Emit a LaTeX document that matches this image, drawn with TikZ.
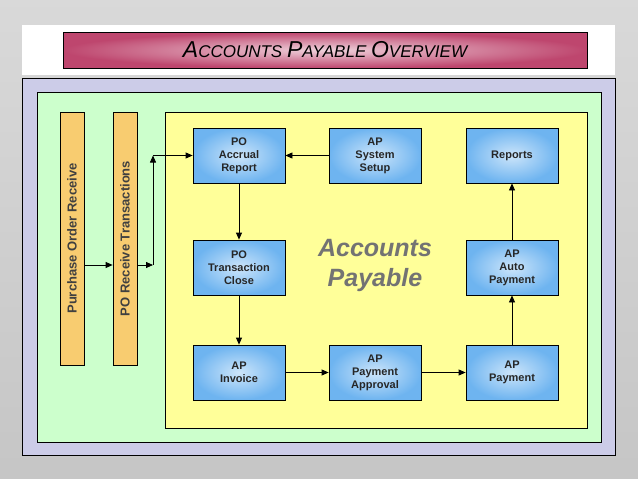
\documentclass[tikz,border=0pt]{standalone}
\usepackage{fontspec}
\setmainfont{Liberation Sans}
\usetikzlibrary{arrows.meta}
\usetikzlibrary{positioning}
\definecolor{lavender}{RGB}{204,204,232}
\definecolor{mint}{RGB}{204,255,204}
\definecolor{paleyellow}{RGB}{255,255,153}
\definecolor{barorange}{RGB}{248,204,112}
\definecolor{boxblue}{RGB}{110,180,240}
\definecolor{titlered}{RGB}{190,70,110}
\begin{document}
\begin{tikzpicture}[x=1pt,y=-1pt]
\tikzset{apbox/.style={draw,thick,fill=boxblue!70,inner color=boxblue!35,outer color=boxblue,minimum width=92pt,minimum height=55pt,align=center,font=\bfseries\fontsize{11}{13}\selectfont,text=black!85},
  flow/.style={thick,-{Triangle[length=7pt,width=6pt]}},
  bar/.style={draw,thick,fill=barorange,minimum width=24pt,minimum height=253pt},
  barlabel/.style={rotate=90,font=\bfseries\fontsize{13}{15}\selectfont,text=black!75}}
\shade[top color=gray!30,bottom color=gray!45] (0,0) rectangle (638,479);
\useasboundingbox (0,0) rectangle (638,479);
\fill[white] (22,25) rectangle (615,75);
\node[draw,thick,minimum width=524pt,minimum height=36pt,inner color=titlered!25,outer color=titlered,font=\itshape\fontsize{17}{19}\selectfont](title) at (325,50){{\fontsize{23}{25}\selectfont A}CCOUNTS {\fontsize{23}{25}\selectfont P}AYABLE {\fontsize{23}{25}\selectfont O}VERVIEW};
\draw[thick,fill=lavender] (22,78) rectangle (615,455);
\draw[thick,fill=mint] (37,92) rectangle (601,442);
\draw[thick,fill=paleyellow] (165,112) rectangle (587,428);
\node[bar](por) at (72,238.5){};
\node[barlabel] at (por){Purchase Order Receive};
\node[bar](prt) at (125,238.5){};
\node[barlabel] at (prt){PO Receive Transactions};
\node[apbox](accrual) at (239,155.5){PO\\Accrual\\Report};
\node[apbox](setup) at (375,155.5){AP\\System\\Setup};
\node[apbox](reports) at (512,155.5){Reports};
\node[apbox](close) at (239,267.5){PO\\Transaction\\Close};
\node[apbox](auto) at (512,267.5){AP\\Auto\\Payment};
\node[apbox](invoice) at (239,372.5){AP\\Invoice};
\node[apbox](approval) at (375,372.5){AP\\Payment\\Approval};
\node[apbox](payment) at (512,372.5){AP\\Payment};
\node[font=\bfseries\itshape\fontsize{25}{30}\selectfont,text=black!55,align=center](ap) at (375,265){Accounts\\Payable};
\coordinate (split) at (153,265);
\coordinate (turn) at (153,155.5);
\draw[flow] (por.east |- split) -- (prt.west |- split);
\draw[flow] (prt.east |- split) -- (split);
\draw[flow] (split) -- (turn);
\draw[flow] (turn) -- (accrual);
\draw[flow] (setup) -- (accrual);
\draw[flow] (accrual) -- (close);
\draw[flow] (close) -- (invoice);
\draw[flow] (invoice) -- (approval);
\draw[flow] (approval) -- (payment);
\draw[flow] (payment) -- (auto);
\draw[flow] (auto) -- (reports);
\end{tikzpicture}
\end{document}
